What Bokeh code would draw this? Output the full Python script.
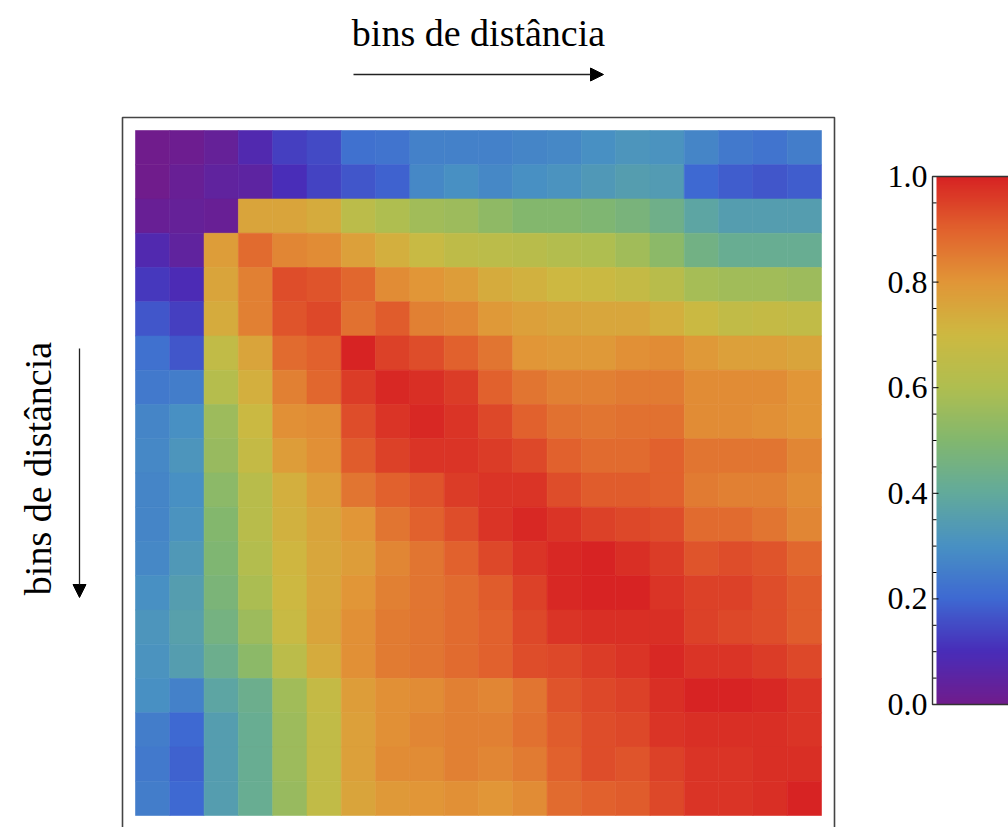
import numpy as np
from bokeh.plotting import figure
from bokeh.models import (ColumnDataSource, LinearColorMapper, Range1d, BoxAnnotation,
                          Arrow, NormalHead, Label)
from bokeh.core.properties import value
from bokeh.transform import transform
from bokeh.embed import file_html
from bokeh.resources import INLINE

# ---------------- data ----------------
bins = list(range(1, 21))
axis_title = "bins de distância"

row01 = [0.00, 0.01, 0.03, 0.08, 0.13, 0.15, 0.22, 0.23, 0.26, 0.26, 0.26, 0.27, 0.28, 0.30, 0.32, 0.31, 0.27, 0.24, 0.23, 0.25]
row02 = [0.00, 0.02, 0.04, 0.05, 0.10, 0.14, 0.17, 0.19, 0.28, 0.30, 0.28, 0.30, 0.31, 0.33, 0.35, 0.34, 0.20, 0.18, 0.17, 0.18]
row03 = [0.02, 0.03, 0.02, 0.76, 0.76, 0.74, 0.64, 0.60, 0.57, 0.56, 0.53, 0.50, 0.50, 0.49, 0.47, 0.44, 0.38, 0.35, 0.35, 0.35]
row04 = [0.08, 0.04, 0.78, 0.88, 0.83, 0.82, 0.77, 0.73, 0.68, 0.65, 0.64, 0.63, 0.61, 0.60, 0.57, 0.52, 0.45, 0.42, 0.42, 0.42]
row05 = [0.12, 0.09, 0.76, 0.84, 0.93, 0.92, 0.89, 0.82, 0.80, 0.78, 0.74, 0.72, 0.70, 0.69, 0.67, 0.63, 0.58, 0.57, 0.57, 0.56]
row06 = [0.17, 0.13, 0.74, 0.84, 0.92, 0.94, 0.87, 0.91, 0.84, 0.83, 0.79, 0.77, 0.76, 0.75, 0.75, 0.73, 0.69, 0.66, 0.67, 0.66]
row07 = [0.22, 0.17, 0.66, 0.76, 0.88, 0.90, 1.00, 0.95, 0.93, 0.90, 0.86, 0.80, 0.79, 0.79, 0.81, 0.82, 0.79, 0.77, 0.77, 0.76]
row08 = [0.24, 0.25, 0.62, 0.73, 0.84, 0.89, 0.96, 0.99, 0.98, 0.96, 0.90, 0.86, 0.84, 0.84, 0.85, 0.85, 0.82, 0.82, 0.82, 0.80]
row09 = [0.27, 0.30, 0.56, 0.69, 0.81, 0.82, 0.93, 0.97, 0.99, 0.97, 0.94, 0.90, 0.87, 0.86, 0.87, 0.87, 0.82, 0.82, 0.81, 0.80]
row10 = [0.28, 0.32, 0.55, 0.67, 0.78, 0.81, 0.91, 0.95, 0.97, 0.97, 0.96, 0.94, 0.90, 0.88, 0.88, 0.90, 0.86, 0.86, 0.86, 0.83]
row11 = [0.27, 0.30, 0.52, 0.63, 0.73, 0.78, 0.86, 0.90, 0.92, 0.96, 0.97, 0.97, 0.93, 0.91, 0.91, 0.90, 0.85, 0.84, 0.84, 0.82]
row12 = [0.27, 0.31, 0.50, 0.63, 0.72, 0.76, 0.80, 0.86, 0.90, 0.93, 0.97, 0.99, 0.97, 0.95, 0.94, 0.93, 0.88, 0.88, 0.86, 0.83]
row13 = [0.28, 0.33, 0.49, 0.61, 0.71, 0.75, 0.78, 0.83, 0.86, 0.90, 0.94, 0.97, 0.99, 1.00, 0.98, 0.96, 0.92, 0.93, 0.92, 0.89]
row14 = [0.30, 0.35, 0.48, 0.59, 0.70, 0.75, 0.80, 0.84, 0.86, 0.88, 0.91, 0.95, 0.99, 1.00, 1.00, 0.97, 0.95, 0.95, 0.93, 0.91]
row15 = [0.32, 0.36, 0.46, 0.56, 0.68, 0.76, 0.81, 0.85, 0.86, 0.88, 0.90, 0.94, 0.97, 0.98, 0.98, 0.98, 0.95, 0.94, 0.93, 0.91]
row16 = [0.31, 0.35, 0.43, 0.52, 0.64, 0.74, 0.81, 0.85, 0.86, 0.88, 0.90, 0.93, 0.94, 0.96, 0.97, 0.99, 0.97, 0.97, 0.96, 0.94]
row17 = [0.30, 0.26, 0.38, 0.43, 0.57, 0.67, 0.78, 0.81, 0.82, 0.84, 0.83, 0.86, 0.92, 0.94, 0.95, 0.98, 1.00, 1.00, 0.99, 0.97]
row18 = [0.25, 0.20, 0.35, 0.42, 0.56, 0.66, 0.77, 0.81, 0.83, 0.84, 0.84, 0.87, 0.91, 0.93, 0.94, 0.97, 0.98, 0.98, 0.98, 0.97]
row19 = [0.24, 0.19, 0.35, 0.42, 0.56, 0.66, 0.77, 0.82, 0.82, 0.84, 0.83, 0.85, 0.90, 0.93, 0.92, 0.95, 0.97, 0.97, 0.98, 0.98]
row20 = [0.25, 0.20, 0.35, 0.42, 0.55, 0.66, 0.76, 0.79, 0.80, 0.81, 0.80, 0.82, 0.88, 0.90, 0.91, 0.94, 0.97, 0.97, 0.98, 1.00]

cbar_ticks = [0.0, 0.2, 0.4, 0.6, 0.8, 1.0]
cbar_labels = ["0.0", "0.2", "0.4", "0.6", "0.8", "1.0"]
cbar_minor = [round(0.05 * i, 2) for i in range(21) if i % 4 != 0]

# ---------------- colour scale (Mathematica-like "Rainbow") ----------------
stops = [0.0, 0.1, 0.2, 0.3, 0.4, 0.5, 0.6, 0.7, 0.8, 0.9, 1.0]
stop_rgb = [(112, 28, 140), (72, 45, 185), (62, 105, 210), (72, 145, 195),
            (98, 170, 155), (130, 183, 110), (175, 190, 80), (205, 185, 65),
            (225, 150, 55), (225, 98, 45), (215, 35, 35)]
tt = np.linspace(0, 1, 256)
chan = [np.interp(tt, stops, [c[k] for c in stop_rgb]) for k in range(3)]
palette = ["#%02x%02x%02x" % (int(round(r)), int(round(g)), int(round(b)))
           for r, g, b in zip(*chan)]
mapper = LinearColorMapper(palette=palette, low=0.0, high=1.0)

# ---------------- heatmap ----------------
matrix = [row01, row02, row03, row04, row05, row06, row07, row08, row09, row10,
          row11, row12, row13, row14, row15, row16, row17, row18, row19, row20]
xs, ys, vs = [], [], []
for i, r in enumerate(matrix):
    for j, v in enumerate(r):
        xs.append(bins[j] - 0.5)
        ys.append(bins[i] - 0.5)
        vs.append(v)
src = ColumnDataSource(dict(x=xs, y=ys, v=vs))

W, H = 1008, 827
SX, SY = 34.3, 34.25          # pixels per bin
p = figure(width=W, height=H,
           x_range=Range1d(-135 / SX, (W - 135) / SX),
           y_range=Range1d(20 + 12 / SY, -130 / SY),
           x_axis_type=None, y_axis_type=None, title=None,
           min_border=0, min_border_left=0, min_border_right=0,
           min_border_top=0, min_border_bottom=0,
           outline_line_color=None, background_fill_color="white",
           output_backend="svg", toolbar_location=None)
p.rect(x="x", y="y", width=1, height=1, source=src,
       fill_color=transform("v", mapper), line_color=transform("v", mapper),
       line_width=0.6)

p.add_layout(BoxAnnotation(left=(122 - 135) / SX, right=(834 - 135) / SX,
                           top=(117 - 130) / SY, bottom=(840 - 130) / SY,
                           fill_color=None, fill_alpha=0,
                           line_color="#444444", line_alpha=1.0, line_width=1.6))

p.add_layout(Label(x=10, y=(32 - 130) / SY, text=axis_title,
                   text_align="center", text_baseline="alphabetic",
                   text_font="Liberation Serif", text_font_size="38px",
                   text_color="black"))
p.add_layout(Label(x=(37 - 135) / SX, y=(468 - 130) / SY, text=axis_title,
                   angle=np.pi / 2, text_align="center", text_baseline="alphabetic",
                   text_font="Liberation Serif", text_font_size="38px",
                   text_color="black"))

head_kw = dict(size=13, fill_color="black", line_color="black")
p.add_layout(Arrow(end=NormalHead(**head_kw),
                   x_start=(353 - 135) / SX, y_start=(74 - 130) / SY,
                   x_end=(603 - 135) / SX, y_end=(74 - 130) / SY,
                   line_color="#222222", line_width=1.3))
p.add_layout(Arrow(end=NormalHead(**head_kw),
                   x_start=(79 - 135) / SX, y_start=(348 - 130) / SY,
                   x_end=(79 - 135) / SX, y_end=(597 - 130) / SY,
                   line_color="#222222", line_width=1.3))

# ---------------- colour bar (own ranges in the same figure) ----------------
CB_L, CB_T, CB_B = 932, 176, 704
cbw = W - CB_L
cbh = CB_B - CB_T
p.extra_x_ranges = {"cbx": Range1d(-CB_L / cbw, 1.0)}
p.extra_y_ranges = {"cby": Range1d(-(H - CB_B) / cbh, 1 + CB_T / cbh)}

grad = np.linspace(0, 1, 256).reshape(256, 1)
p.image(image=[grad], x=4 / cbw, y=0, dw=1.2, dh=1.0, color_mapper=mapper,
        x_range_name="cbx", y_range_name="cby")
p.add_layout(BoxAnnotation(left=0, right=1.5, bottom=0, top=1,
                           x_range_name="cbx", y_range_name="cby",
                           fill_color=None, fill_alpha=0,
                           line_color="#333333", line_alpha=1.0, line_width=1.4))
p.segment(x0=[0] * len(cbar_minor), y0=cbar_minor,
          x1=[4 / cbw] * len(cbar_minor), y1=cbar_minor,
          line_color="black", line_width=1,
          x_range_name="cbx", y_range_name="cby")
p.segment(x0=[0] * len(cbar_ticks), y0=cbar_ticks,
          x1=[6 / cbw] * len(cbar_ticks), y1=cbar_ticks,
          line_color="black", line_width=1,
          x_range_name="cbx", y_range_name="cby")
p.text(x=[-5 / cbw] * len(cbar_ticks), y=cbar_ticks, text=cbar_labels,
       text_align="right", text_baseline="middle",
       text_font=value("Liberation Serif"), text_font_size=value("32px"),
       text_color="black", x_range_name="cbx", y_range_name="cby")

open("out.html", "w").write(file_html(p, INLINE))
